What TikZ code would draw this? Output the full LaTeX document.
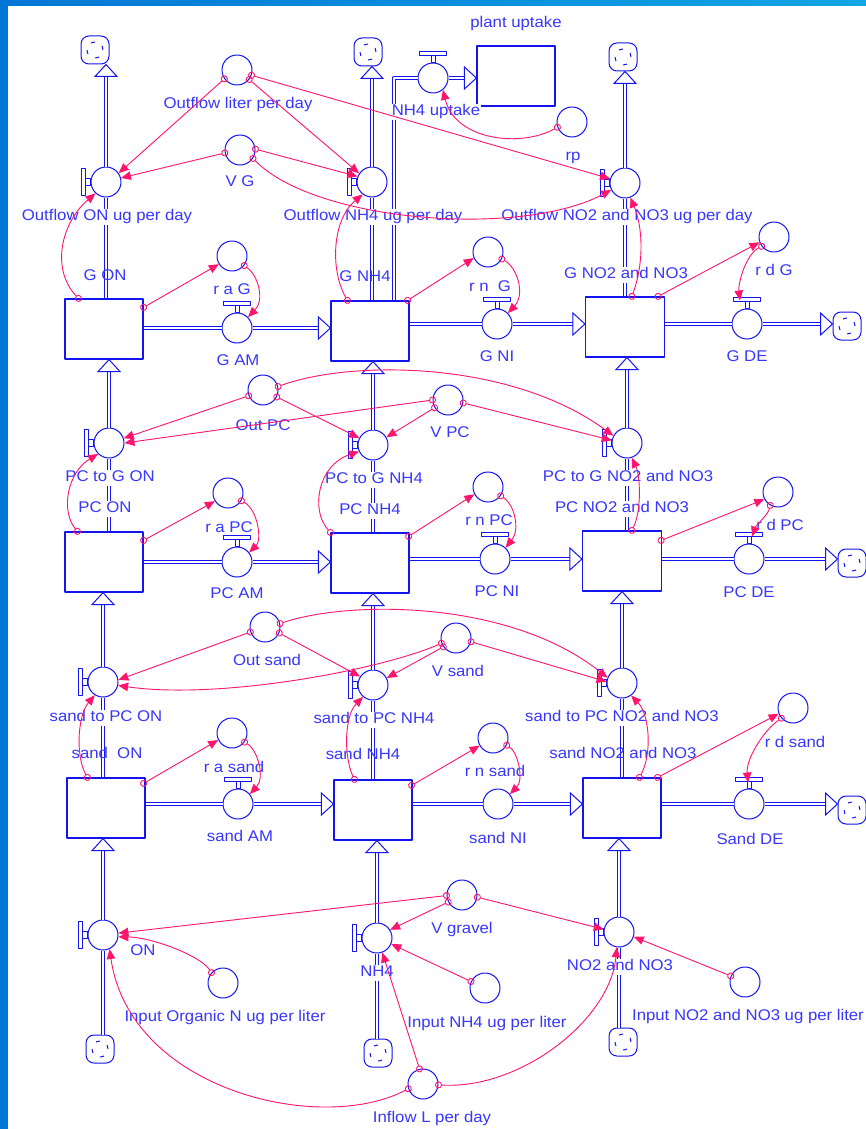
\documentclass[tikz,border=0pt]{standalone}
\usepackage{fontspec}
\newfontfamily\sdfont[FakeStretch=1.08]{Liberation Sans}
\usepackage{tikz}
\usetikzlibrary{arrows.meta,calc}
\definecolor{sdblue}{RGB}{20,20,240}
\definecolor{sdtext}{RGB}{55,55,255}
\definecolor{sdpink}{RGB}{255,20,110}
\definecolor{winblue}{RGB}{0,118,214}
\definecolor{winlight}{RGB}{18,165,228}
\tikzset{stock/.style={draw=sdblue,line width=1.2pt,fill=white,minimum width=78pt,minimum height=60pt,inner sep=0pt},
  valve/.style={circle,draw=sdblue,line width=1pt,fill=white,minimum size=30pt,inner sep=0pt},
  aux/.style={circle,draw=sdblue,line width=1pt,fill=white,minimum size=30pt,inner sep=0pt},
  cloudbox/.style={draw=sdblue,line width=1pt,fill=white,rounded corners=8pt,minimum size=28pt,inner sep=0pt,
    path picture={\draw[sdblue,line width=1pt,dash pattern=on 4pt off 8.5pt] (path picture bounding box.center) circle (8pt);}},
  pipe/.style={draw=sdblue,line width=1pt,double=white,double distance=2.2pt},
  pipehead/.style={draw=sdblue,line width=1pt,fill=white,line join=miter},
  vbar/.style={draw=sdblue,line width=1pt,fill=white},
  link/.style={draw=sdpink,line width=0.9pt,{Circle[open,length=7pt]}-{Triangle[length=10pt,width=8.5pt]},shorten <=-3.5pt},
  lbl/.style={text=sdtext,font=\sdfont\fontsize{15.5}{17}\selectfont,inner sep=0.5pt,text height=11pt,text depth=3.5pt},
  cut/.style={lbl,fill=white}}
% pipe ending in an open head
\newcommand{\pipehd}[2]{%
  \draw[pipe] (#1) -- ($(#2)!12pt!(#1)$);
  \draw[pipehead] (#2) -- ($(#2)!12pt!(#1)!11pt!90:(#2)$) -- ($(#2)!12pt!(#1)!11pt!-90:(#2)$) -- cycle;}

\begin{document}
\begin{tikzpicture}[x=1pt,y=-1pt,line join=round]
\useasboundingbox (0,0) rectangle (866,1129);
\fill[white] (0,0) rectangle (866,1129);
\shade[left color=winblue,right color=winlight] (0,0) rectangle (866,6);
\fill[winblue] (0,0) rectangle (8,1129);

% --- stocks
\node[stock] (gon) at (104,329) {};
\node[stock] (gnh4) at (370,331) {};
\node[stock,minimum width=79pt] (gno) at (625,327) {};
\node[stock] (pcon) at (104,562) {};
\node[stock] (pcnh4) at (370,563) {};
\node[stock,minimum width=79pt] (pcno) at (622,561) {};
\node[stock] (son) at (106,808) {};
\node[stock] (snh4) at (373,810) {};
\node[stock] (sno) at (622,808) {};
\node[stock] (plant) at (516,76) {};

% --- flows
\node[valve] (outon) at (106,182) {};
\node[valve] (outnh4) at (372,182) {};
\node[valve] (outno) at (625,183) {};
\node[valve] (uptake) at (433,78) {};
\node[valve] (gam) at (237,328) {};
\node[valve] (gni) at (497,324) {};
\node[valve] (gde) at (747,324) {};
\node[valve] (pc2gon) at (109,443) {};
\node[valve] (pc2gnh4) at (373,445) {};
\node[valve] (pc2gno) at (627,443) {};
\node[valve] (pcam) at (237,562) {};
\node[valve] (pcni) at (495,559) {};
\node[valve] (pcde) at (749,559) {};
\node[valve] (s2pcon) at (103,682) {};
\node[valve] (s2pcnh4) at (373,685) {};
\node[valve] (s2pcno) at (622,683) {};
\node[valve] (sam) at (238,804) {};
\node[valve] (sni) at (498,804) {};
\node[valve] (sde) at (749,804) {};
\node[valve] (inon) at (103,935) {};
\node[valve] (innh4) at (377,938) {};
\node[valve] (inno) at (619,932) {};

% --- clouds
\node[cloudbox] (kon) at (95,50) {};
\node[cloudbox] (knh4) at (368,52) {};
\node[cloudbox] (kno) at (623,57) {};
\node[cloudbox] (kgde) at (847,326) {};
\node[cloudbox] (kpcde) at (852,563) {};
\node[cloudbox] (ksde) at (852,810) {};
\node[cloudbox] (kinon) at (100,1049) {};
\node[cloudbox] (kinnh4) at (378,1053) {};
\node[cloudbox] (kinno) at (623,1042) {};

% --- converters
\node[aux] (olpd) at (237,70) {};
\node[aux] (vg) at (240,150) {};
\node[aux] (rp) at (572,122) {};
\node[aux] (rag) at (232,256) {};
\node[aux] (rng) at (488,252) {};
\node[aux] (rdg) at (774,237) {};
\node[aux] (outpc) at (263,390) {};
\node[aux] (vpc) at (448,400) {};
\node[aux] (rapc) at (228,493) {};
\node[aux] (rnpc) at (488,487) {};
\node[aux] (rdpc) at (778,492) {};
\node[aux] (outsand) at (265,627) {};
\node[aux] (vsand) at (456,638) {};
\node[aux] (ras) at (232,733) {};
\node[aux] (rns) at (493,738) {};
\node[aux] (rds) at (793,708) {};
\node[aux] (vgravel) at (462,895) {};
\node[aux] (inorg) at (223,983) {};
\node[aux] (inputnh4) at (485,988) {};
\node[aux] (inputno) at (745,982) {};
\node[aux] (inflow) at (423,1084) {};

% --- pipes, vertical
\draw[pipe] (outon.south) -- (outon.south |- gon.north);
\pipehd{outon.north}{outon.north |- kon.south}
\draw[pipe] (outnh4.south) -- (outnh4.south |- gnh4.north);
\pipehd{outnh4.north}{outnh4.north |- knh4.south}
\draw[pipe] (outno.south) -- (outno.south |- gno.north);
\pipehd{outno.north}{outno.north |- kno.south}
\draw[pipe] ($(gnh4.north east)+(-16,0)$) |- (uptake.west);
\pipehd{uptake.east}{uptake.east -| plant.west}
\draw[pipe] (pc2gon.south) -- (pc2gon.south |- pcon.north);
\pipehd{pc2gon.north}{pc2gon.north |- gon.south}
\draw[pipe] (pc2gnh4.south) -- (pc2gnh4.south |- pcnh4.north);
\pipehd{pc2gnh4.north}{pc2gnh4.north |- gnh4.south}
\draw[pipe] (pc2gno.south) -- (pc2gno.south |- pcno.north);
\pipehd{pc2gno.north}{pc2gno.north |- gno.south}
\draw[pipe] (s2pcon.south) -- (s2pcon.south |- son.north);
\pipehd{s2pcon.north}{s2pcon.north |- pcon.south}
\draw[pipe] (s2pcnh4.south) -- (s2pcnh4.south |- snh4.north);
\pipehd{s2pcnh4.north}{s2pcnh4.north |- pcnh4.south}
\draw[pipe] (s2pcno.south) -- (s2pcno.south |- sno.north);
\pipehd{s2pcno.north}{s2pcno.north |- pcno.south}
\draw[pipe] (inon.south |- kinon.north) -- (inon.south);
\pipehd{inon.north}{inon.north |- son.south}
\draw[pipe] (innh4.south |- kinnh4.north) -- (innh4.south);
\pipehd{innh4.north}{innh4.north |- snh4.south}
\draw[pipe] (inno.south |- kinno.north) -- (inno.south);
\pipehd{inno.north}{inno.north |- sno.south}

% --- pipes, horizontal
\draw[pipe] (gon.east |- gam.west) -- (gam.west);
\pipehd{gam.east}{gam.east -| gnh4.west}
\draw[pipe] (gnh4.east |- gni.west) -- (gni.west);
\pipehd{gni.east}{gni.east -| gno.west}
\draw[pipe] (gno.east |- gde.west) -- (gde.west);
\pipehd{gde.east}{gde.east -| kgde.west}
\draw[pipe] (pcon.east |- pcam.west) -- (pcam.west);
\pipehd{pcam.east}{pcam.east -| pcnh4.west}
\draw[pipe] (pcnh4.east |- pcni.west) -- (pcni.west);
\pipehd{pcni.east}{pcni.east -| pcno.west}
\draw[pipe] (pcno.east |- pcde.west) -- (pcde.west);
\pipehd{pcde.east}{pcde.east -| kpcde.west}
\draw[pipe] (son.east |- sam.west) -- (sam.west);
\pipehd{sam.east}{sam.east -| snh4.west}
\draw[pipe] (snh4.east |- sni.west) -- (sni.west);
\pipehd{sni.east}{sni.east -| sno.west}
\draw[pipe] (sno.east |- sde.west) -- (sde.west);
\pipehd{sde.east}{sde.east -| ksde.west}

% --- valve handles
\foreach \v in {outon,outnh4,outno,pc2gon,pc2gnh4,pc2gno,s2pcon,s2pcnh4,s2pcno,inon,innh4,inno}{
  \draw[vbar] ($(\v.west)+(-5,-4)$) rectangle ($(\v.west)+(0,3)$);
  \draw[vbar] ($(\v.west)+(-9,-14)$) rectangle ($(\v.west)+(-5,13)$);}
\foreach \v in {uptake,gam,gni,gde,pcam,pcni,pcde,sam,sde}{
  \draw[vbar] ($(\v.north)+(-2,-7)$) rectangle ($(\v.north)+(2,0)$);
  \draw[vbar] ($(\v.north)+(-14,-11)$) rectangle ($(\v.north)+(13,-7)$);}

% --- labels
\node[lbl] (t_olpd) at (238,105) {Outflow liter per day};
\node[lbl] (t_vg) at (240,183) {V G};
\node[cut] (t_outon) at (107,217) {Outflow ON ug per day};
\node[cut] (t_outnh4) at (373,217) {Outflow NH4 ug per day};
\node[cut] (t_outno) at (627,217) {Outflow NO2 and NO3 ug per day};
\node[lbl] (t_plant) at (516,24) {plant uptake};
\node[cut] (t_uptake) at (436,112) {NH4 uptake};
\node[lbl] (t_rp) at (573,157) {rp};
\node[lbl] (t_gon) at (105,277) {G ON};
\node[lbl] (t_gnh4) at (365,278) {G NH4};
\node[cut] (t_gno) at (626,275) {G NO2 and NO3};
\node[lbl] (t_rag) at (232,291) {r a G};
\node[lbl] (t_gam) at (238,362) {G AM};
\node[lbl] (t_rng) at (490,288) {r n\ \ G};
\node[lbl] (t_gni) at (497,358) {G NI};
\node[lbl] (t_rdg) at (774,272) {r d G};
\node[lbl] (t_gde) at (747,358) {G DE};
\node[lbl] (t_outpc) at (263,427) {Out PC};
\node[lbl] (t_vpc) at (450,434) {V PC};
\node[cut] (t_pc2gon) at (110,478) {PC to G ON};
\node[cut] (t_pc2gnh4) at (374,480) {PC to G NH4};
\node[cut] (t_pc2gno) at (628,478) {PC to G NO2 and NO3};
\node[cut] (t_pcon) at (105,509) {PC ON};
\node[cut] (t_pcnh4) at (370,511) {PC NH4};
\node[cut] (t_pcno) at (622,509) {PC NO2 and NO3};
\node[lbl] (t_rapc) at (229,529) {r a PC};
\node[lbl] (t_pcam) at (237,595) {PC AM};
\node[lbl] (t_rnpc) at (489,522) {r n PC};
\node[lbl] (t_pcni) at (497,593) {PC NI};
\node[lbl] (t_rdpc) at (780,527) {r d PC};
\node[lbl] (t_pcde) at (749,594) {PC DE};
\node[lbl] (t_outsand) at (267,662) {Out sand};
\node[lbl] (t_vsand) at (458,673) {V sand};
\node[cut] (t_s2pcon) at (106,718) {sand to PC ON};
\node[cut] (t_s2pcnh4) at (374,720) {sand to PC NH4};
\node[cut] (t_s2pcno) at (622,718) {sand to PC NO2 and NO3};
\node[lbl] (t_son) at (107,755) {sand\ \ ON};
\node[lbl] (t_snh4) at (363,756) {sand NH4};
\node[lbl] (t_sno) at (623,755) {sand NO2 and NO3};
\node[lbl] (t_ras) at (234,769) {r a sand};
\node[lbl] (t_sam) at (240,838) {sand AM};
\node[lbl] (t_rns) at (495,773) {r n sand};
\node[lbl] (t_sni) at (498,840) {sand NI};
\node[lbl] (t_rds) at (795,744) {r d sand};
\node[lbl] (t_sde) at (750,841) {Sand DE};
\node[lbl] (t_vgravel) at (462,930) {V gravel};
\node[lbl] (t_inon) at (143,952) {ON};
\node[cut] (t_innh4) at (377,973) {NH4};
\node[cut] (t_inno) at (620,967) {NO2 and NO3};
\node[lbl] (t_inorg) at (225,1018) {Input Organic N ug per liter};
\node[lbl] (t_inputnh4) at (487,1024) {Input NH4 ug per liter};
\node[lbl] (t_inputno) at (748,1017) {Input NO2 and NO3 ug per liter};
\node[lbl] (t_inflow) at (432,1119) {Inflow L per day};

% --- connectors, gravel layer G
\coordinate (gdetip) at ($(gde.north)+(-7,-8)$);
\coordinate (pcdetip) at ($(pcde.north)+(3,-7)$);
\coordinate (sdetip) at ($(sde.north)+(-1,-6)$);
\draw[link] (olpd.215) -- (outon.35);
\draw[link] (olpd.322) -- (outnh4.146);
\draw[link] (olpd.340) -- (outno.164);
\draw[link] (vg.191) -- (outon.15);
\draw[link] (vg.3) -- (outnh4.159);
\draw[link] (vg.327) .. controls (315,222) and (520,238) .. (outno.207);
\draw[link] ($(gon.north west)+(14,0)$) .. controls (50,268) and (62,222) .. (outon.227);
\draw[link] ($(gnh4.north west)+(17,0)$) .. controls (330,270) and (332,220) .. (outnh4.233);
\draw[link] ($(gno.north west)+(47,0)$) .. controls (645,260) and (642,225) .. (outno.290);
\draw[link] (rp.200) .. controls (520,148) and (455,140) .. (uptake.310);
\draw[link] ($(gon.north east)+(0,9)$) -- (rag.212);
\draw[link] (rag.322) .. controls (258,275) and (265,300) .. (gam.45);
\draw[link] ($(gnh4.north east)+(-2,0)$) -- (rng.203);
\draw[link] (rng.333) .. controls (518,268) and (525,295) .. (gni.45);
\draw[link] ($(gno.north east)+(-7,0)$) -- (rdg.200);
\draw[link] (rdg.217) .. controls (745,255) and (738,285) .. (gdetip);

% --- connectors, layer PC
\draw[link] (outpc.202) -- (pc2gon.18);
\draw[link] (outpc.333) -- (pc2gnh4.153);
\draw[link] (outpc.13) .. controls (350,360) and (510,360) .. (pc2gno.152);
\draw[link] (vpc.180) -- (pc2gon.0);
\draw[link] (vpc.210) -- (pc2gnh4.30);
\draw[link] (vpc.349) -- (pc2gno.170);
\draw[link] ($(pcon.north west)+(13,0)$) .. controls (60,510) and (68,472) .. (pc2gon.225);
\draw[link] (pcnh4.north west) .. controls (310,510) and (318,465) .. (pc2gnh4.205);
\draw[link] ($(pcno.north west)+(50,0)$) .. controls (642,510) and (640,475) .. (pc2gno.288);
\draw[link] ($(pcon.north east)+(0,9)$) -- (rapc.212);
\draw[link] (rapc.330) .. controls (258,510) and (262,540) .. (pcam.38);
\draw[link] ($(pcnh4.north east)+(-1,4)$) -- (rnpc.208);
\draw[link] (rnpc.325) .. controls (515,505) and (520,530) .. (pcni.47);
\draw[link] ($(pcno.north east)+(-1,10)$) -- (rdpc.208);
\draw[link] (rdpc.240) .. controls (768,515) and (756,525) .. (pcdetip);

% --- connectors, layer sand
\draw[link] (outsand.199) -- (s2pcon.8);
\draw[link] (outsand.337) -- (s2pcnh4.147);
\draw[link] (outsand.13) .. controls (350,600) and (510,600) .. (s2pcno.160);
\draw[link] (vsand.200) .. controls (380,670) and (220,700) .. (s2pcon.347);
\draw[link] (vsand.215) -- (s2pcnh4.27);
\draw[link] (vsand.346) -- (s2pcno.175);
\draw[link] ($(son.north west)+(21,0)$) .. controls (75,755) and (78,715) .. (s2pcon.238);
\draw[link] ($(snh4.north west)+(21,0)$) .. controls (343,755) and (345,715) .. (s2pcnh4.230);
\draw[link] ($(sno.north west)+(57,0)$) .. controls (652,755) and (650,715) .. (s2pcno.306);
\draw[link] ($(son.north east)+(-2,6)$) -- (ras.207);
\draw[link] (ras.324) .. controls (258,750) and (265,778) .. (sam.40);
\draw[link] ($(snh4.north east)+(-1,6)$) -- (rns.210);
\draw[link] (rns.332) .. controls (518,752) and (524,780) .. (sni.40);
\draw[link] ($(sno.north east)+(-4,0)$) -- (rds.202);
\draw[link] (rds.221) .. controls (762,732) and (746,760) .. (sdetip);

% --- connectors, inputs
\draw[link] (vgravel.182) -- (inon.7);
\draw[link] (vgravel.207) -- (innh4.32);
\draw[link] (vgravel.352) -- (inno.170);
\draw[link] (inorg.138) .. controls (200,955) and (150,937) .. (inon.353);
\draw[link] (inputnh4.155) -- (innh4.337);
\draw[link] (inputno.157) -- (inno.342);
\draw[link] (inflow.198) .. controls (320,1135) and (130,1090) .. (inon.295);
\draw[link] (inflow.103) -- (innh4.290);
\draw[link] (inflow.357) .. controls (520,1090) and (610,1020) .. (inno.262);
\end{tikzpicture}
\end{document}
